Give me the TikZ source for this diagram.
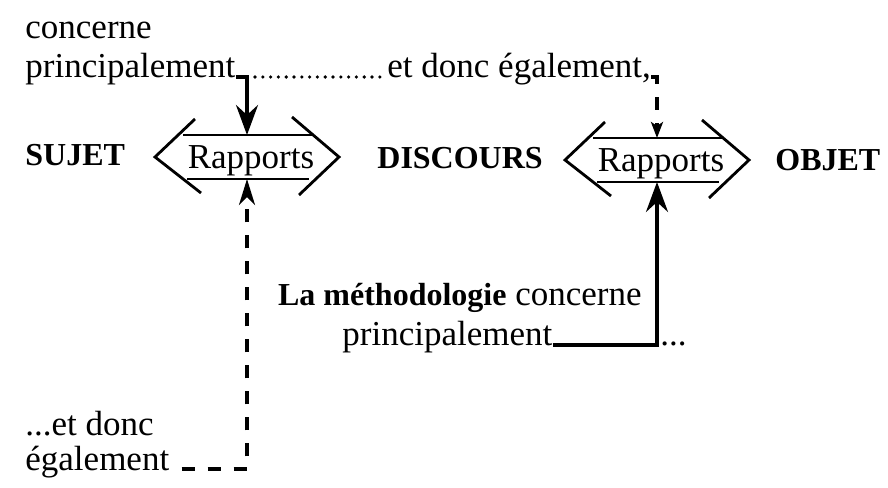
\documentclass[tikz,border=0pt]{standalone}
\usepackage{fontspec}
\setmainfont{Liberation Serif}
\usetikzlibrary{arrows.meta}
\tikzset{
    txt/.style={inner sep=0pt, font=\fontsize{17.5}{20}\selectfont},
    bold/.style={inner sep=0pt, font=\fontsize{16}{19}\selectfont\bfseries},
    boxline/.style={line width=1.4pt},
    solidlink/.style={line width=1.7pt, -{Stealth[length=15pt, width=11pt, inset=5pt]}},
    dashlink/.style={line width=1.6pt, dash pattern=on 6.5pt off 6.5pt, -{Stealth[length=13pt, width=8pt, inset=4pt]}},
    dotlink/.style={line width=1.8pt, line cap=round, dash pattern=on 0pt off 3.9pt},
    rapports/.pic={
        \node[txt, anchor=base] (-t) at (4,11) {Rapports};
        \coordinate (-n) at (0,-22);
        \coordinate (-s) at (0,22);
        \draw[boxline] (-64,-22) -- (65,-22);
        \draw[boxline] (-60,22) -- (62,22);
        \draw[boxline] (-52,-38) -- (-92,0) -- (-46,36);
        \draw[boxline] (45,-40) -- (92,0) -- (52,38);
    }
}
\begin{document}
\begin{tikzpicture}[x=0.5pt, y=-0.5pt]
    \useasboundingbox (0,0) rectangle (888,487);

    \node[txt, anchor=base west] (c1) at (25,38) {concerne};
    \node[txt, anchor=base west] (p1) at (25,77) {principalement};
    \node[txt, anchor=base west] (et1) at (387,77) {et donc également,};

    \node[bold, anchor=base west] (suj) at (25,165) {SUJET};
    \node[bold, anchor=base west] (dis) at (377,168) {DISCOURS};
    \node[bold, anchor=base west] (obj) at (775,170) {OBJET};
    \pic (r1) at (247,157) {rapports};
    \pic (r2) at (657,160) {rapports};

    \node[txt, anchor=base east] (meth) at (642,305) {\fontsize{16}{19}\selectfont\bfseries La méthodologie\mdseries\fontsize{17.5}{20}\selectfont{} concerne};
    \node[txt, anchor=base west] (p2) at (342,345) {principalement};
    \node[txt, anchor=base west] (d2) at (660,345) {...};

    \node[txt, anchor=base west] (e2) at (25,435) {...et donc};
    \node[txt, anchor=base west] (eg) at (25,470) {également};

    \draw[solidlink] (p1.base east) -| (r1-n);
    \draw[dotlink, shorten <=4pt, shorten >=1pt] (r1-n |- p1.base) -- (et1.base west);
    \draw[dashlink, -{Stealth[length=8pt, width=6pt, inset=2pt]}] (et1.base east) -| (r2-n);
    \draw[solidlink] (p2.base east) -| (r2-s);
    \draw[dashlink] ([xshift=6pt, yshift=0.5pt]eg.base east) -| (r1-s);

\end{tikzpicture}
\end{document}
